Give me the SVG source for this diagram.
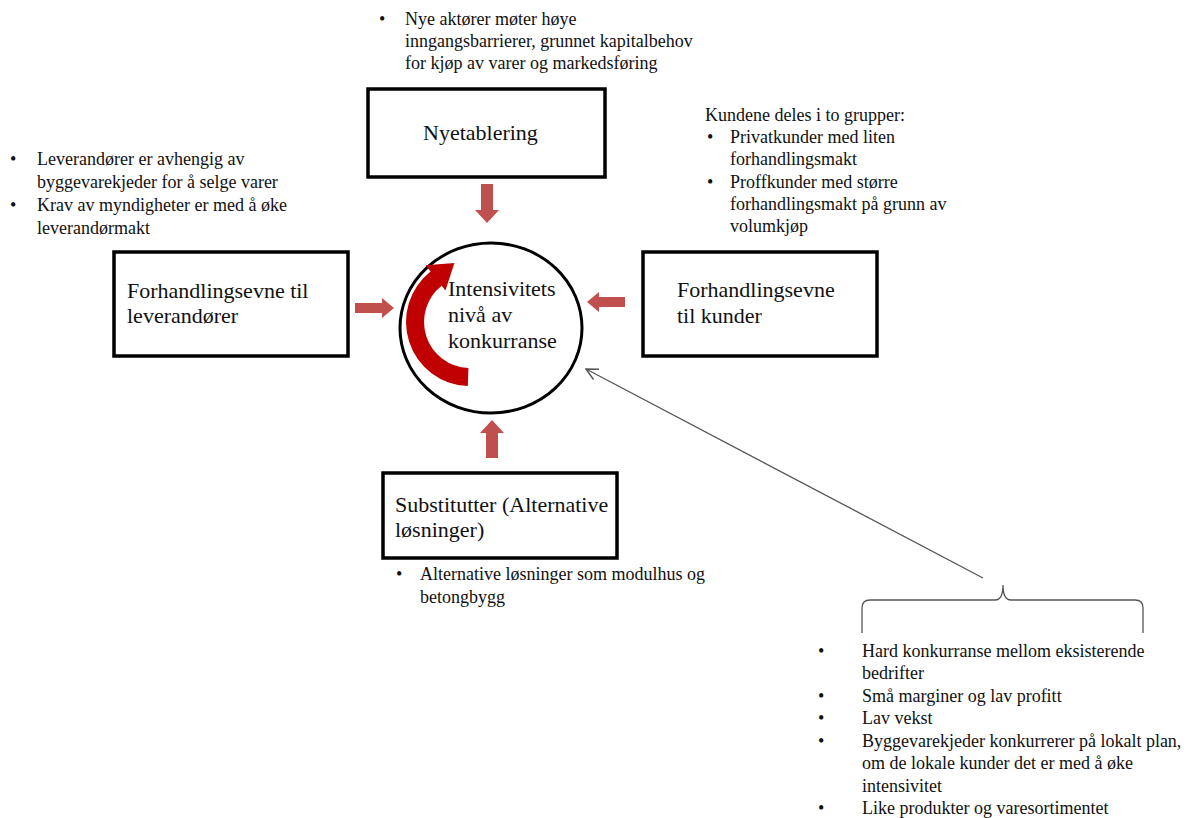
<svg xmlns="http://www.w3.org/2000/svg" width="1202" height="818" viewBox="0 0 1202 818">
<defs>
<style>
.t{font-family:"Liberation Serif","Times New Roman",serif;font-size:18px;fill:#111}
.b{font-family:"Liberation Serif","Times New Roman",serif;font-size:22px;fill:#111}
.box{fill:#fff;stroke:#000;stroke-width:3.5}
.blk{fill:#C0504D}
.thin{fill:none;stroke:#555;stroke-width:1.3}
</style>
<marker id="open" viewBox="0 0 12 12" refX="11" refY="6" markerWidth="14" markerHeight="14" markerUnits="userSpaceOnUse" orient="auto">
<path d="M1 1 L11 6 L1 11" fill="none" stroke="#555" stroke-width="1.3"/>
</marker>
</defs>
<rect width="1202" height="818" fill="#fff"/>

<g id="note-top">
<text class="t" x="379" y="25">•</text>
<text class="t" x="405" y="25">Nye aktører møter høye</text>
<text class="t" x="405" y="47">inngangsbarrierer, grunnet kapitalbehov</text>
<text class="t" x="405" y="69">for kjøp av varer og markedsføring</text>
</g>

<g id="note-right">
<text class="t" x="705" y="121">Kundene deles i to grupper:</text>
<text class="t" x="707" y="143">•</text>
<text class="t" x="730" y="143">Privatkunder med liten</text>
<text class="t" x="730" y="165">forhandlingsmakt</text>
<text class="t" x="707" y="188">•</text>
<text class="t" x="730" y="188">Proffkunder med større</text>
<text class="t" x="730" y="210">forhandlingsmakt på grunn av</text>
<text class="t" x="730" y="232">volumkjøp</text>
</g>

<g id="note-left">
<text class="t" x="10" y="165">•</text>
<text class="t" x="37" y="165">Leverandører er avhengig av</text>
<text class="t" x="37" y="188">byggevarekjeder for å selge varer</text>
<text class="t" x="10" y="211">•</text>
<text class="t" x="37" y="211">Krav av myndigheter er med å øke</text>
<text class="t" x="37" y="234">leverandørmakt</text>
</g>

<g id="note-sub">
<text class="t" x="396" y="580">•</text>
<text class="t" x="420" y="580">Alternative løsninger som modulhus og</text>
<text class="t" x="420" y="603">betongbygg</text>
</g>

<g id="note-rivalry">
<text class="t" x="818" y="657">•</text>
<text class="t" x="862" y="657">Hard konkurranse mellom eksisterende</text>
<text class="t" x="862" y="679">bedrifter</text>
<text class="t" x="818" y="702">•</text>
<text class="t" x="862" y="702">Små marginer og lav profitt</text>
<text class="t" x="818" y="724">•</text>
<text class="t" x="862" y="724">Lav vekst</text>
<text class="t" x="818" y="747">•</text>
<text class="t" x="862" y="747">Byggevarekjeder konkurrerer på lokalt plan,</text>
<text class="t" x="862" y="769">om de lokale kunder det er med å øke</text>
<text class="t" x="862" y="792">intensivitet</text>
<text class="t" x="818" y="814">•</text>
<text class="t" x="862" y="814">Like produkter og varesortimentet</text>
</g>

<g id="node-nyetablering">
<rect class="box" x="368" y="89" width="237" height="88"/>
<text class="b" x="423" y="140">Nyetablering</text>
</g>

<g id="node-leverandorer">
<rect class="box" x="114" y="252" width="234" height="104"/>
<text class="b" x="127" y="298">Forhandlingsevne til</text>
<text class="b" x="127" y="323">leverandører</text>
</g>

<g id="node-kunder">
<rect class="box" x="643" y="252" width="234" height="104"/>
<text class="b" x="677" y="297">Forhandlingsevne</text>
<text class="b" x="677" y="323">til kunder</text>
</g>

<g id="node-substitutter">
<rect class="box" x="383" y="473" width="234" height="85"/>
<text class="b" x="395" y="512">Substitutter (Alternative</text>
<text class="b" x="395" y="537">løsninger)</text>
</g>

<g id="node-center">
<ellipse cx="491" cy="328" rx="91" ry="85" fill="#fff" stroke="#000" stroke-width="3"/>
<path d="M467.8 386 A64 64 0 0 1 430.6 271.6 L425.6 265.3 L454.4 263.1 L445.4 290.5 L441.7 285.8 A46 46 0 0 0 468.4 368 Z" fill="#C00000"/>
<text class="b" x="448" y="296">Intensivitets</text>
<text class="b" x="448" y="322">nivå av</text>
<text class="b" x="448" y="348">konkurranse</text>
</g>

<g id="connectors">
<path class="blk" d="M481 184 H493 V210 H499 L487 223 L475 210 H481 Z"/>
<path class="blk" d="M355 303 H382 V298 L394 308 L382 318 V313 H355 Z"/>
<path class="blk" d="M625 297 H599 V292 L587 302 L599 312 V307 H625 Z"/>
<path class="blk" d="M486 458 V433 H480 L492 420 L504 433 H498 V458 Z"/>
<line class="thin" x1="983" y1="578" x2="586" y2="369" marker-end="url(#open)"/>
<path class="thin" d="M862 633 V608 Q862 600 870 600 H995 Q1003 600 1003 585 Q1003 600 1011 600 H1135 Q1143 600 1143 608 V633"/>
</g>
</svg>
